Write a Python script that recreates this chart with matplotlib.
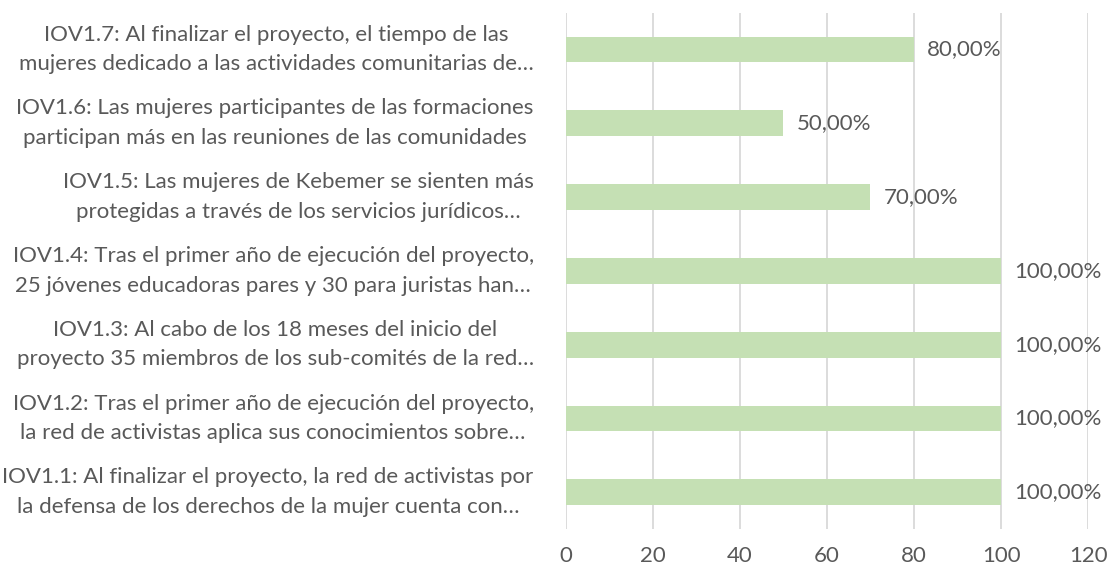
import matplotlib
matplotlib.use("Agg")
import matplotlib.pyplot as plt

# categories listed bottom to top
labels = [
    "IOV1.1: Al finalizar el proyecto, la red de activistas por\nla defensa de los derechos de la mujer cuenta con…",
    "IOV1.2: Tras el primer año de ejecución del proyecto,\nla red de activistas aplica sus conocimientos sobre…",
    "IOV1.3: Al cabo de los 18 meses del inicio del\nproyecto 35 miembros de los sub-comités de la red…",
    "IOV1.4: Tras el primer año de ejecución del proyecto,\n25 jóvenes educadoras pares y 30 para juristas han…",
    "IOV1.5: Las mujeres de Kebemer se sienten más\nprotegidas a través de los servicios jurídicos…",
    "IOV1.6: Las mujeres participantes de las formaciones\nparticipan más en las reuniones de las comunidades",
    "IOV1.7: Al finalizar el proyecto, el tiempo de las\nmujeres dedicado a las actividades comunitarias de…",
]
values = [100, 100, 100, 100, 70, 50, 80]
xticks = [0, 20, 40, 60, 80, 100, 120]

plt.rcParams['font.family'] = ['Lato', 'DejaVu Sans']
text_color = "#595959"
bar_color = "#c5e0b4"
grid_color = "#d9d9d9"
fs = 16

fig = plt.figure(figsize=(11.07, 5.69), dpi=100)
ax = fig.add_axes([0.511, 0.070, 0.472, 0.908])

ypos = range(len(labels))
ax.barh(ypos, values, height=0.35, color=bar_color, zorder=2)

for y, v in zip(ypos, values):
    ax.text(v + 3.0, y, f"{v:.2f}".replace(".", ",") + "%", va="center", ha="left",
            fontsize=fs, color=text_color)

ax.set_xlim(0, 120)
ax.set_ylim(-0.5, len(labels) - 0.5)
ax.set_xticks(xticks)
ax.set_xticklabels([str(t) for t in xticks], fontsize=fs, color=text_color)
ax.set_yticks(list(ypos))
ax.set_yticklabels(labels, fontsize=fs, color=text_color, multialignment="center",
                   linespacing=1.6, va="center")
ax.tick_params(axis="both", length=0)
ax.tick_params(axis="x", pad=12)
ax.tick_params(axis="y", pad=23)
ax.grid(axis="x", color=grid_color, linewidth=1.3, zorder=0)
for s in ax.spines.values():
    s.set_visible(False)

fig.savefig("out.png", dpi=100)
